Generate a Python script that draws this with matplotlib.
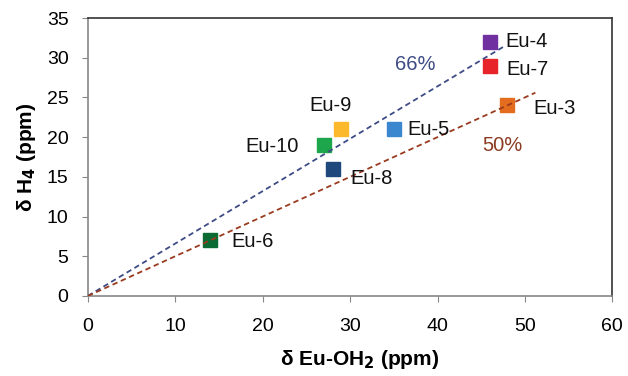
import matplotlib
matplotlib.use("Agg")
import matplotlib.pyplot as plt

plt.rcParams['font.family'] = ['Liberation Sans', 'DejaVu Sans']

# Data
names = ['Eu-4', 'Eu-7', 'Eu-3', 'Eu-9', 'Eu-5', 'Eu-10', 'Eu-8', 'Eu-6']
eu_oh2 = [46, 46, 48, 29, 35, 27, 28, 14]
h4 = [32, 29, 24, 21, 21, 19, 16, 7]
colors = ['#7030A0', '#E8242B', '#E46C1E', '#FDB92C', '#3A87D0', '#1DA64B', '#1F497D', '#0B6B32']

# label offsets (points) and alignment
offsets = [(11, 0), (12, -3), (19, -2), (-8, 17), (10, 0), (-18, -1), (13, -7), (15, -1)]
aligns = ['left', 'left', 'left', 'center', 'left', 'right', 'left', 'left']

# fit lines through origin
slope_66, end_66 = 0.66, 47.5
slope_50, end_50 = 0.50, 51.2

fig = plt.figure(figsize=(6.28, 3.76), dpi=100)
ax = fig.add_axes([0.140, 0.213, 0.835, 0.739])

ax.plot([0, end_66], [0, slope_66 * end_66], ls=(0, (3, 2)), color='#3E4C86', lw=1.3, zorder=3)
ax.plot([0, end_50], [0, slope_50 * end_50], ls=(0, (3, 2)), color='#9A3B1F', lw=1.3, zorder=3)

for x, y, c, n, off, ha in zip(eu_oh2, h4, colors, names, offsets, aligns):
    ax.plot(x, y, marker='s', ms=10, color=c, ls='none', zorder=2)
    ax.annotate(n, (x, y), xytext=off, textcoords='offset points',
                ha=ha, va='center', fontsize=14.5, color='#111111')

ax.text(37.5, 29.1, '66%', fontsize=14.5, color='#3E4C86', ha='center', va='center')
ax.text(47.4, 18.9, '50%', fontsize=14.5, color='#8B3A22', ha='center', va='center')

ax.set_xlim(0, 60)
ax.set_ylim(0, 35)
ax.set_xticks(range(0, 61, 10))
ax.set_yticks(range(0, 36, 5))
ax.tick_params(axis='x', direction='out', length=4, pad=12, labelsize=14, color='#888888')
ax.tick_params(axis='y', direction='out', length=4, pad=10, labelsize=14, color='#888888')

for s in ['top', 'right']:
    ax.spines[s].set_color('#333333')
    ax.spines[s].set_linewidth(1.2)
for s in ['left', 'bottom']:
    ax.spines[s].set_color('#888888')
    ax.spines[s].set_linewidth(1.2)

ax.set_xlabel('δ Eu-OH$_\\mathbf{2}$ (ppm)', fontsize=15, fontweight='bold', labelpad=9)
ax.xaxis.label.set_x(0.518)
ax.set_ylabel('δ H$_\\mathbf{4}$ (ppm)', fontsize=15, fontweight='bold', labelpad=6)

fig.savefig('out.png', dpi=100)
